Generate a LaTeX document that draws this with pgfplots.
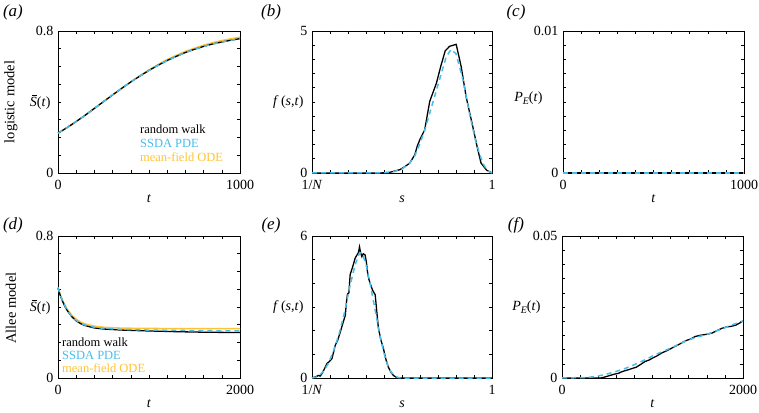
\documentclass[border=0pt]{standalone}
\usepackage{pgfplots}
\pgfplotsset{compat=1.18}
\usepackage{fontspec}
\setmainfont{Liberation Serif}
\definecolor{cblue}{RGB}{70,190,235}
\definecolor{corange}{RGB}{255,195,50}
\newcommand{\Sbar}{\textit{S}\llap{\raisebox{11pt}{\rule{5pt}{0.7pt}}\hspace{0pt}}(\textit{t})}
\newcommand{\PE}{\textit{P}\raisebox{-3pt}{\fontsize{10}{12}\selectfont\textit{E}}(\textit{t})}
\pgfplotsset{
  panel/.style={scale only axis, height=142pt, clip=false,
    axis line style={line width=0.8pt},
    tick align=inside, major tick length=3pt, minor tick length=3pt,
    every tick/.style={black, line width=0.6pt},
    /pgf/number format/assume math mode=true,
    scaled ticks=false,
    tick label style={font=\fontsize{14}{16}\selectfont},
    xticklabel style={yshift=-2.5pt, text height=9.5pt, text depth=0pt},
    yticklabel style={text height=9.5pt, text depth=0pt},
    label style={font=\fontsize{14}{16}\selectfont},
    xlabel style={at={(axis description cs:0.5,0)}, anchor=center, yshift=-26pt},
    ylabel style={rotate=-90, at={(axis description cs:0,0.5)}, anchor=east},
    minor x tick num=9,
  },
  rw/.style={black, line width=1.3pt},
  pde/.style={cblue, line width=1.5pt, dash pattern=on 5pt off 4pt},
  ode/.style={corange, line width=1.5pt},
}
\begin{document}
\begin{tikzpicture}
\useasboundingbox (0pt,0pt) rectangle (759pt,412pt);
\fontsize{13}{15}\selectfont
% (a)
\begin{axis}[panel, at={(58pt,239pt)}, anchor=south west, width=182pt,
  xmin=0, xmax=1000, ymin=0, ymax=0.8, xtick={0,1000}, xticklabels={0,1000},
  ytick={0,0.8}, yticklabels={0,0.8}, minor y tick num=7,
  xlabel={\textit{t}}, ylabel={\Sbar}, ylabel style={xshift=-3pt}]
\addplot[ode] coordinates {(0,0.224)(50,0.256)(100,0.290)(150,0.326)(200,0.364)(250,0.402)(300,0.440)(350,0.477)(400,0.513)(450,0.548)(500,0.581)(550,0.611)(600,0.639)(650,0.663)(700,0.685)(750,0.703)(800,0.720)(850,0.734)(900,0.746)(950,0.756)(1000,0.765)};
\addplot[rw] coordinates {(0,0.224)(50,0.256)(100,0.290)(150,0.326)(200,0.364)(250,0.402)(300,0.440)(350,0.477)(400,0.513)(450,0.546)(500,0.578)(550,0.607)(600,0.634)(650,0.657)(700,0.679)(750,0.697)(800,0.713)(850,0.727)(900,0.738)(950,0.748)(1000,0.757)};
\addplot[pde] coordinates {(0,0.224)(50,0.256)(100,0.290)(150,0.326)(200,0.364)(250,0.402)(300,0.440)(350,0.477)(400,0.513)(450,0.546)(500,0.578)(550,0.607)(600,0.634)(650,0.657)(700,0.679)(750,0.697)(800,0.713)(850,0.727)(900,0.738)(950,0.748)(1000,0.757)};
\node[anchor=west, inner sep=0pt, font=\fontsize{12.5}{14}\selectfont, text=black] at (axis description cs:0.45,0.31) {random walk};
\node[anchor=west, inner sep=0pt, font=\fontsize{12.5}{14}\selectfont, text=cblue] at (axis description cs:0.45,0.211) {SSDA PDE};
\node[anchor=west, inner sep=0pt, font=\fontsize{12.5}{14}\selectfont, text=corange] at (axis description cs:0.45,0.113) {mean-field ODE};
\end{axis}
% (b)
\begin{axis}[panel, at={(312pt,239pt)}, anchor=south west, width=180pt,
  xmin=0, xmax=1, ymin=0, ymax=5, xtick={0,1}, xticklabels={1/\textit{N},1},
  ytick={0,5}, yticklabels={0,5}, minor y tick num=9,
  xlabel={\textit{s}}, ylabel={\textit{f}\,(\textit{s},\textit{t})}, ylabel style={xshift=-4pt}]
\addplot[rw] coordinates {(0,0)(0.38,0)(0.43,0.02)(0.488,0.117)(0.515,0.22)(0.543,0.35)(0.571,0.64)(0.585,0.95)(0.599,1.17)(0.626,1.52)(0.654,2.52)(0.691,3.16)(0.715,3.75)(0.740,4.30)(0.764,4.46)(0.801,4.53)(0.829,3.74)(0.856,2.69)(0.893,1.64)(0.920,0.85)(0.939,0.35)(0.97,0.1)(1,0)};
\addplot[pde] coordinates {(0,0)(0.38,0)(0.45,0.04)(0.5,0.14)(0.54,0.33)(0.571,0.6)(0.60,1.05)(0.626,1.5)(0.663,2.3)(0.709,3.3)(0.746,4.1)(0.773,4.35)(0.80,4.2)(0.838,3.3)(0.875,2.1)(0.91,1.1)(0.948,0.35)(0.975,0.08)(1,0)};
\end{axis}
% (c)
\begin{axis}[panel, at={(563pt,239pt)}, anchor=south west, width=181pt,
  xmin=0, xmax=1000, ymin=0, ymax=0.01, xtick={0,1000}, xticklabels={0,1000},
  ytick={0,0.01}, yticklabels={0,0.01}, minor y tick num=9,
  xlabel={\textit{t}}, ylabel={\PE}, ylabel style={xshift=-16pt, yshift=4pt}]
\addplot[rw] coordinates {(0,0)(1000,0)};
\addplot[pde] coordinates {(0,0)(1000,0)};
\end{axis}
% (d)
\begin{axis}[panel, at={(58pt,34pt)}, anchor=south west, width=182pt,
  xmin=0, xmax=2000, ymin=0, ymax=0.8, xtick={0,2000}, xticklabels={0,2000},
  ytick={0,0.8}, yticklabels={0,0.8}, minor y tick num=7,
  xlabel={\textit{t}}, ylabel={\Sbar}, ylabel style={xshift=-3pt}]
\addplot[ode] coordinates {(0,0.51)(25,0.47)(50,0.437)(100,0.388)(150,0.354)(200,0.331)(250,0.315)(300,0.304)(400,0.292)(500,0.286)(700,0.281)(1000,0.279)(2000,0.278)};
\addplot[rw] coordinates {(0,0.505)(25,0.465)(50,0.432)(75,0.404)(100,0.381)(150,0.346)(200,0.322)(250,0.306)(300,0.295)(400,0.282)(500,0.276)(700,0.270)(1000,0.265)(1300,0.261)(1600,0.258)(2000,0.256)};
\addplot[pde] coordinates {(0,0.51)(25,0.468)(50,0.434)(100,0.383)(150,0.348)(200,0.325)(250,0.309)(300,0.298)(400,0.286)(500,0.280)(700,0.274)(1000,0.270)(1500,0.267)(2000,0.265)};
\node[anchor=west, inner sep=0pt, font=\fontsize{12.5}{14}\selectfont, text=black] at (axis description cs:0.022,0.254) {random walk};
\node[anchor=west, inner sep=0pt, font=\fontsize{12.5}{14}\selectfont, text=cblue] at (axis description cs:0.022,0.162) {SSDA PDE};
\node[anchor=west, inner sep=0pt, font=\fontsize{12.5}{14}\selectfont, text=corange] at (axis description cs:0.022,0.07) {mean-field ODE};
\end{axis}
% (e)
\begin{axis}[panel, at={(312pt,34pt)}, anchor=south west, width=180pt,
  xmin=0, xmax=1, ymin=0, ymax=6, xtick={0,1}, xticklabels={1/\textit{N},1},
  ytick={0,6}, yticklabels={0,6}, minor y tick num=5,
  xlabel={\textit{s}}, ylabel={\textit{f}\,(\textit{s},\textit{t})}, ylabel style={xshift=-4pt}]
\addplot[rw] coordinates {(0,0)(0.02,0.05)(0.037,0.11)(0.045,0.08)(0.055,0.18)(0.07,0.4)(0.083,0.61)(0.097,0.7)(0.111,0.82)(0.12,1.1)(0.129,1.38)(0.143,1.6)(0.157,1.94)(0.171,2.3)(0.185,2.65)(0.19,3.1)(0.197,3.55)(0.205,3.6)(0.212,4.37)(0.226,4.7)(0.240,5.07)(0.25,5.2)(0.258,5.3)(0.264,5.54)(0.27,5.3)(0.277,5.13)(0.285,5.25)(0.295,5.20)(0.302,4.9)(0.308,4.5)(0.315,4.2)(0.323,4.0)(0.337,3.7)(0.351,3.52)(0.36,2.8)(0.369,2.1)(0.383,1.6)(0.397,1.24)(0.41,0.8)(0.424,0.46)(0.438,0.25)(0.452,0.11)(0.47,0.02)(0.489,0)(1,0)};
\addplot[pde] coordinates {(0,0)(0.03,0.05)(0.06,0.25)(0.09,0.6)(0.12,1.15)(0.15,1.85)(0.18,2.75)(0.21,3.85)(0.24,4.8)(0.265,5.3)(0.28,5.25)(0.30,4.8)(0.32,4.1)(0.34,3.3)(0.36,2.5)(0.38,1.7)(0.40,1.05)(0.42,0.55)(0.44,0.25)(0.46,0.08)(0.48,0.02)(0.5,0)(1,0)};
\end{axis}
% (f)
\begin{axis}[panel, at={(562pt,34pt)}, anchor=south west, width=181pt,
  xmin=0, xmax=2000, ymin=0, ymax=0.05, xtick={0,2000}, xticklabels={0,2000},
  ytick={0,0.05}, yticklabels={0,0.05}, minor y tick num=9,
  xlabel={\textit{t}}, ylabel={\PE}, ylabel style={xshift=-17pt}]
\addplot[rw] coordinates {(0,0)(430,0)(480,0.0004)(530,0.0009)(584,0.0014)(620,0.0016)(660,0.0022)(700,0.0026)(732,0.0029)(780,0.0034)(820,0.0038)(870,0.0048)(917,0.0058)(960,0.0063)(1000,0.0070)(1050,0.0078)(1101,0.0088)(1150,0.0095)(1200,0.0103)(1240,0.0110)(1286,0.0117)(1330,0.0125)(1380,0.0133)(1420,0.0137)(1471,0.0146)(1520,0.0150)(1560,0.0152)(1600,0.0154)(1656,0.0158)(1700,0.0165)(1767,0.0175)(1820,0.0180)(1870,0.0182)(1920,0.0186)(1960,0.0193)(2000,0.0201)};
\addplot[pde] coordinates {(0,0)(150,0.0001)(288,0.0002)(380,0.0006)(473,0.0012)(565,0.0020)(658,0.0029)(750,0.0040)(843,0.0053)(935,0.0067)(1028,0.0082)(1120,0.0094)(1212,0.0107)(1305,0.0121)(1397,0.0134)(1490,0.0144)(1582,0.0152)(1675,0.0162)(1767,0.0173)(1880,0.0187)(2000,0.0201)};
\end{axis}
% panel labels and row labels
\node[font=\fontsize{17}{19}\selectfont] at (13pt,400pt) {\textit{(a)}};
\node[font=\fontsize{17}{19}\selectfont] at (271pt,400pt) {\textit{(b)}};
\node[font=\fontsize{17}{19}\selectfont] at (516pt,400pt) {\textit{(c)}};
\node[font=\fontsize{17}{19}\selectfont] at (13pt,187pt) {\textit{(d)}};
\node[font=\fontsize{17}{19}\selectfont] at (271pt,187pt) {\textit{(e)}};
\node[font=\fontsize{17}{19}\selectfont] at (516pt,187pt) {\textit{(f)}};
\node[rotate=90, font=\fontsize{14.5}{16}\selectfont] at (11pt,310pt) {logistic model};
\node[rotate=90, font=\fontsize{14.5}{16}\selectfont] at (11pt,104pt) {Allee model};
\end{tikzpicture}
\end{document}
